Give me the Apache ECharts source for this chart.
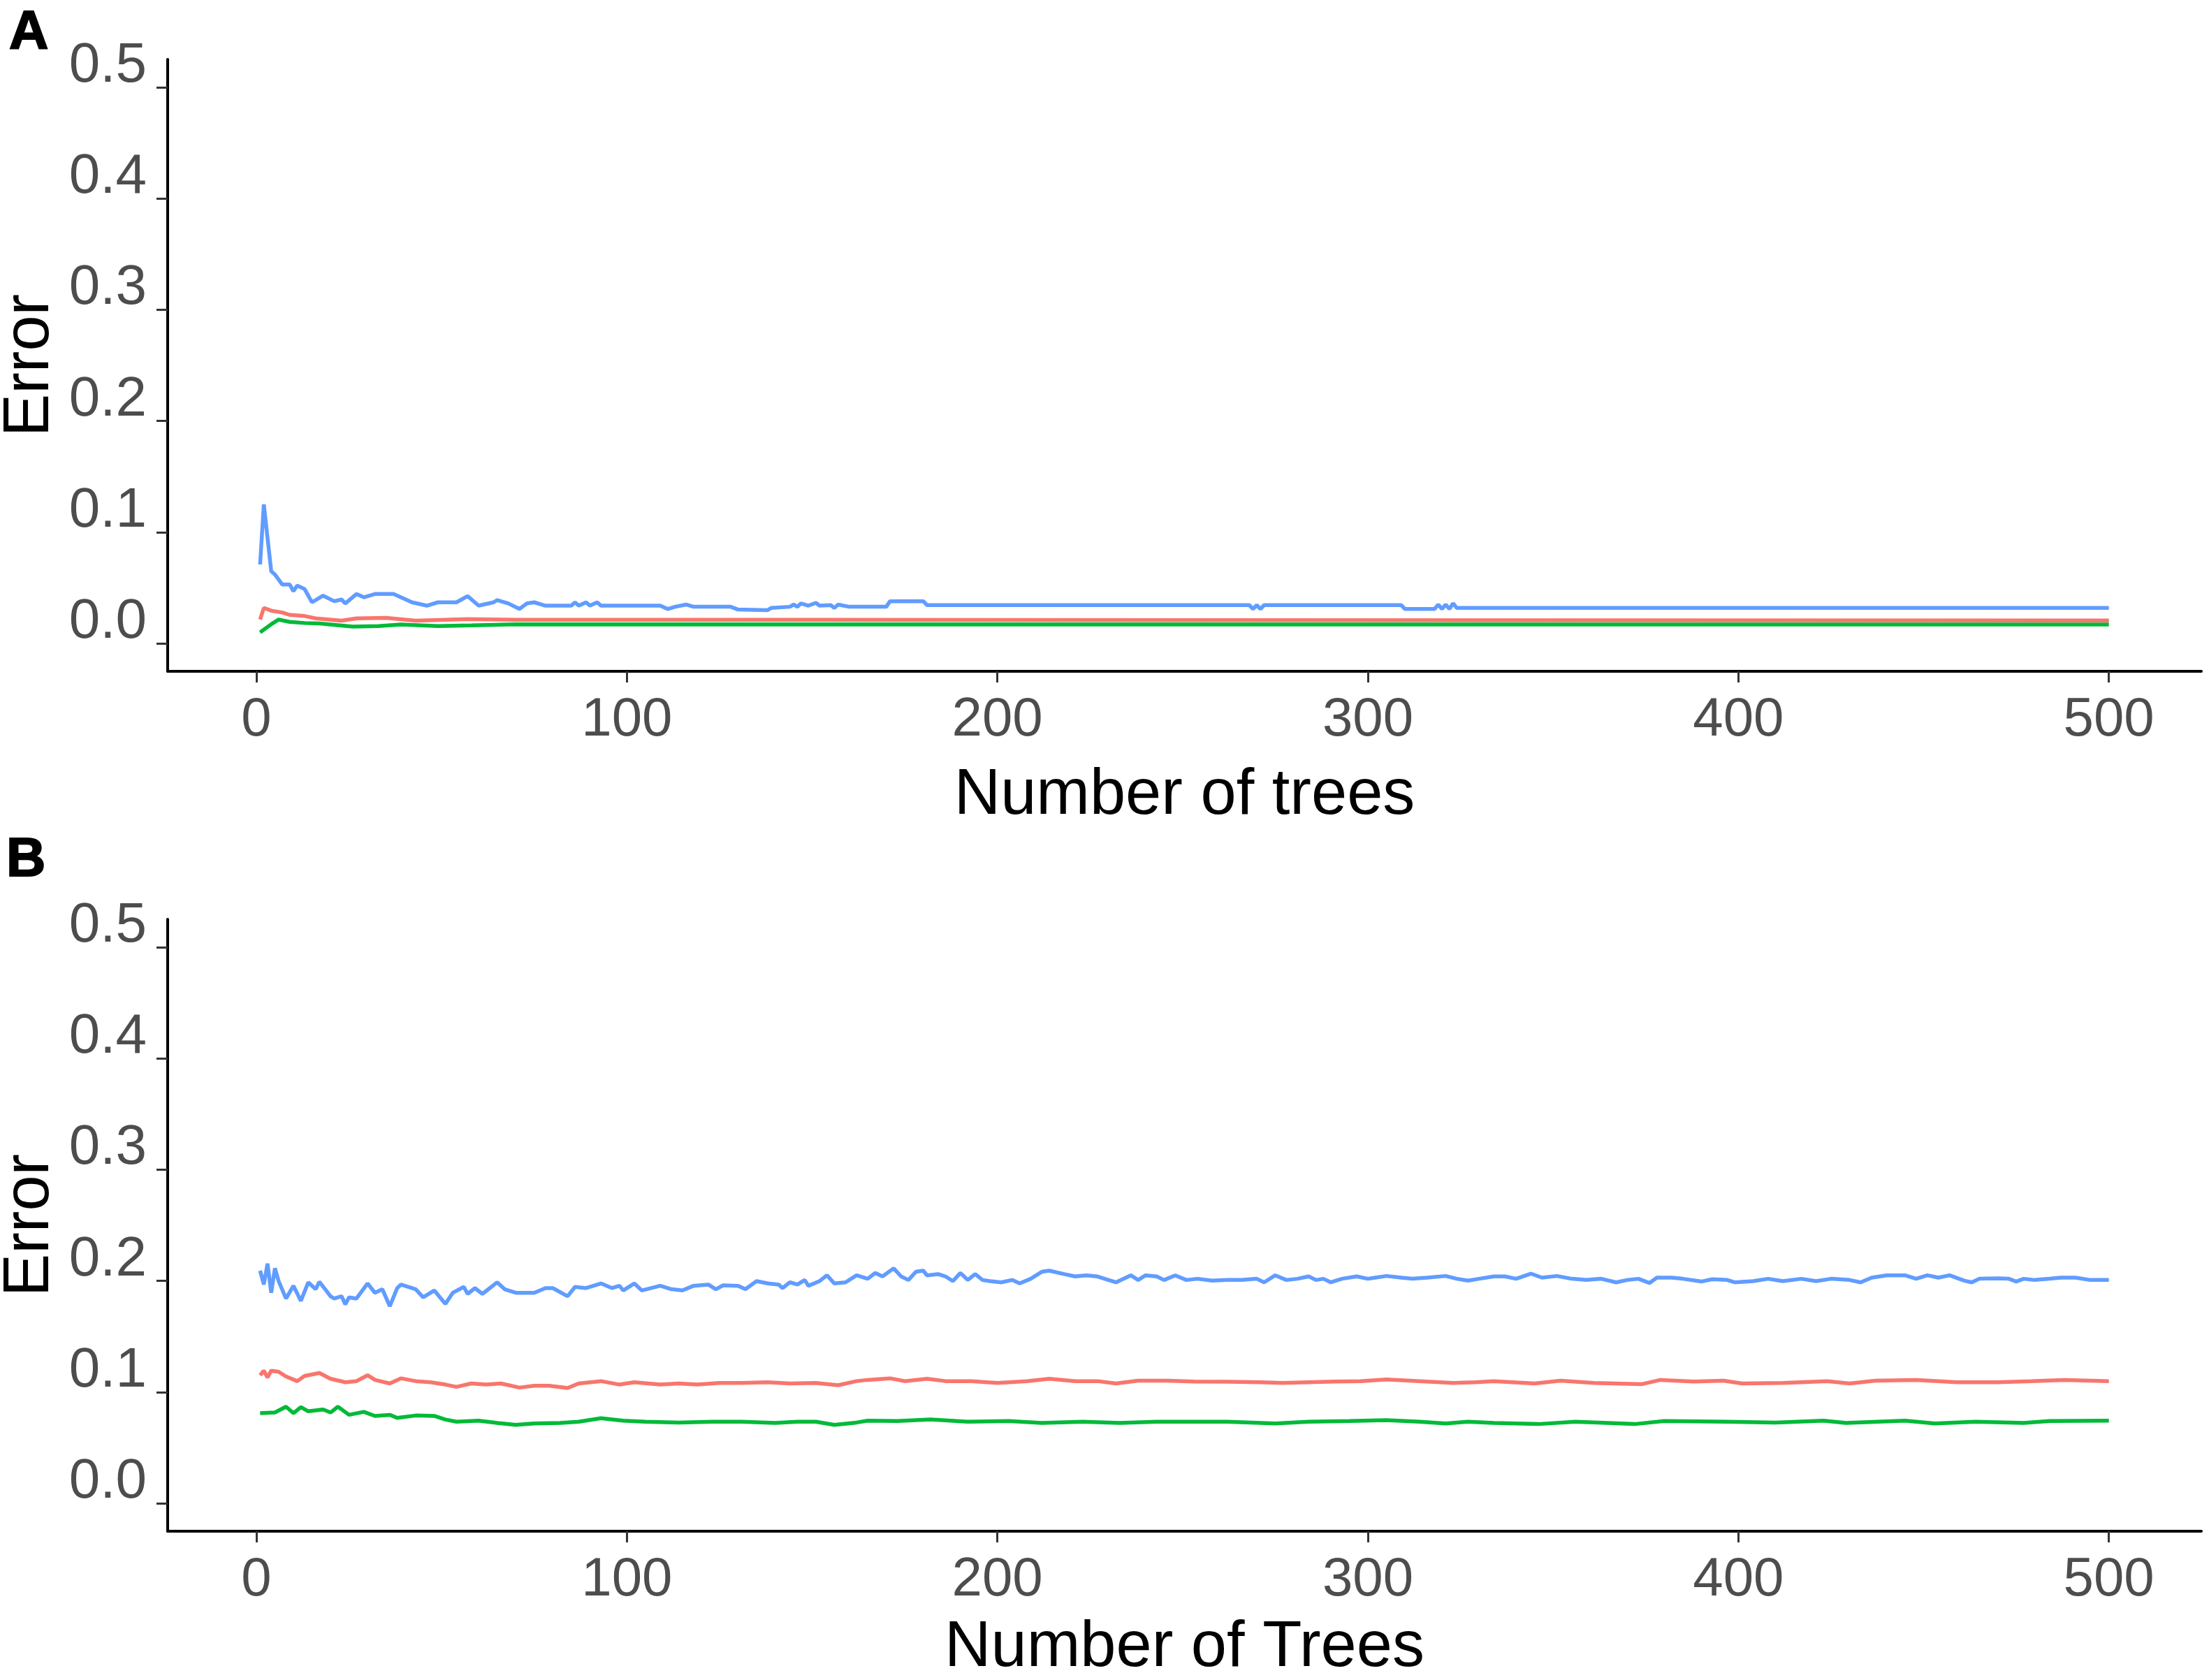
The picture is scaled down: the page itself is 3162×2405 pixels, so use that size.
<!DOCTYPE html>
<html>
<head>
<meta charset="utf-8">
<script src="https://cdn.jsdelivr.net/npm/echarts@6/dist/echarts.min.js"></script>
<style>
  html, body { margin: 0; padding: 0; background: #fff; }
  #main { width: 3162px; height: 2405px; }
</style>
</head>
<body>
<div id="main"></div>
<script>
// tick labels
const xTicks = [0, 100, 200, 300, 400, 500];
const yTicks = [0, 0.1, 0.2, 0.3, 0.4, 0.5];

// panel A: [number of trees, error]
const redA = [[1,0.0215],[2,0.032],[4,0.0295],[7,0.0278],[9,0.0257],[13,0.0247],[16,0.0226],[23,0.0205],[27,0.0226],[35,0.023],[43,0.0205],[57,0.022],[70,0.0213],[150,0.0213],[250,0.021],[500,0.0207]];
const greenA = [[1,0.010],[4,0.0173],[6,0.0215],[9,0.0194],[13,0.0184],[17,0.018],[26,0.0152],[33,0.0157],[39,0.017],[49,0.0157],[58,0.0163],[70,0.0173],[500,0.017]];
const blueA = [[1,0.071],[2,0.125],[4,0.065],[5,0.062],[7,0.053],[9,0.053],[10,0.047],[11,0.052],[13,0.049],[15,0.037],[18,0.043],[21,0.038],[23,0.0395],[24,0.036],[27,0.0445],[29,0.0415],[32,0.0445],[37,0.0445],[39,0.0415],[42,0.037],[46,0.034],[49,0.037],[54,0.037],[57,0.0426],[60,0.034],[64,0.037],[65,0.039],[68,0.036],[71,0.031],[73,0.036],[75,0.037],[78,0.034],[85,0.034],[86,0.037],[87,0.034],[89,0.037],[90,0.034],[92,0.037],[93,0.034],[109,0.034],[111,0.031],[113,0.033],[116,0.035],[118,0.033],[128,0.033],[130,0.0305],[138,0.030],[139,0.032],[144,0.033],[145,0.035],[146,0.033],[147,0.036],[149,0.034],[151,0.0365],[152,0.034],[155,0.0345],[156,0.032],[157,0.035],[160,0.033],[170,0.033],[171,0.038],[180,0.038],[181,0.0345],[268,0.0345],[269,0.031],[270,0.0345],[271,0.031],[272,0.0345],[309,0.0345],[310,0.031],[318,0.031],[319,0.035],[320,0.031],[321,0.035],[322,0.031],[323,0.036],[324,0.032],[500,0.032]];

// panel B
const redB = [[1,.1152],[2,.1193],[3,.1131],[4,.1193],[6,.1183],[8,.1141],[11,.1099],[13,.1145],[17,.1172],[20,.1120],[24,.1089],[27,.1099],[30,.1152],[32,.1110],[36,.1078],[39,.1124],[43,.1099],[47,.1089],[51,.1068],[54,.1047],[58,.1078],[62,.1068],[66,.1078],[71,.1041],[75,.1058],[79,.1058],[84,.1037],[87,.1078],[93,.1099],[98,.1068],[102,.1089],[109,.1068],[114,.1078],[119,.1068],[125,.1083],[131,.1083],[138,.1089],[144,.1078],[151,.1083],[157,.1062],[162,.1099],[165,.1110],
  [171,.1124],[175,.1099],[181,.1120],[186,.1099],[193,.1099],[200,.1083],[208,.1099],[214,.1120],[221,.1099],[227,.1099],[232,.1078],[238,.1103],[246,.1103],[253,.1095],[262,.1093],[271,.1089],[277,.1083],[284,.1089],[291,.1095],[298,.1099],[305,.1114],[314,.1099],[323,.1083],[329,.1089],[334,.1099],
  [345,.1078],[352,.1103],[361,.1083],[374,.1072],[379,.1110],[388,.1095],[396,.1103],[401,.1078],[412,.1083],[424,.1099],[430,.1078],[437,.1103],[448,.1110],[459,.1089],[470,.1089],[479,.1099],[488,.1110],[500,.1099]];
const greenB = [[1,.0811],[5,.0817],[8,.0869],[10,.0811],[12,.0865],[14,.0828],[18,.0844],[20,.0817],[22,.0869],[25,.0796],[29,.0823],[32,.0786],[36,.0796],[38,.0769],[43,.0790],[48,.0786],[51,.0754],[54,.0734],[60,.0744],[65,.0723],[70,.0706],[75,.0719],[82,.0723],[87,.0734],[93,.0765],[99,.0744],[105,.0734],[114,.0727],[123,.0734],[131,.0734],[140,.0723],[146,.0734],[151,.0734],[156,.0706],[162,.0727],[165,.0744],
  [173,.0740],[182,.0754],[192,.0734],[203,.0740],[212,.0723],[223,.0734],[233,.0723],[243,.0734],[253,.0734],[262,.0734],[275,.0719],[284,.0734],[295,.0740],[305,.0748],[314,.0734],[321,.0719],[327,.0734],[334,.0723],
  [346,.0713],[356,.0734],[372,.0713],[380,.0740],[397,.0734],[410,.0727],[423,.0744],[429,.0723],[445,.0744],[453,.0719],[464,.0734],[477,.0723],[484,.0740],[500,.0744]];
const blueB = [[1,.2092],[2,.1967],[3,.2155],[4,.1893],[5,.2113],[6,.1998],[8,.1841],[10,.1956],[12,.1820],[14,.1987],[16,.1925],[17,.1992],[20,.1862],[21,.1841],[23,.1862],[24,.1789],[25,.1852],[27,.1841],[30,.1977],[32,.1893],[34,.1925],[36,.1772],[38,.1935],[39,.1967],[43,.1925],[45,.1852],[48,.1914],[51,.1793],[53,.1893],[56,.1946],[57,.1883],[59,.1935],[61,.1883],[65,.1987],[67,.1925],[70,.1893],[75,.1893],[78,.1935],[80,.1935],[84,.1862],[86,.1946],[89,.1935],[93,.1977],[96,.1935],[98,.1956],[99,.1914],[102,.1977],[104,.1914],[109,.1956],[112,.1925],[115,.1914],[118,.1956],[122,.1967],[124,.1925],[126,.1960],[130,.1956],[132,.1925],[135,.1998],[138,.1977],[141,.1967],[142,.1935],[144,.1987],[146,.1967],[148,.2008],[149,.1956],[152,.1998],[154,.2050],[156,.1977],[159,.1987],[162,.2050],[165,.2019],
  [167,.2071],[169,.2040],[172,.2113],[174,.2040],[176,.2008],[178,.2082],[180,.2092],[181,.2050],[184,.2061],[186,.2040],[188,.1998],[190,.2071],[192,.2008],[194,.2061],[196,.2008],[198,.1998],[201,.1987],[204,.2008],[206,.1977],[209,.2019],[212,.2082],[214,.2092],[218,.2061],[221,.2040],[224,.2050],[227,.2040],[230,.2008],[232,.1987],[236,.2050],[238,.2008],[240,.2050],[243,.2040],[245,.2008],[248,.2050],[251,.2008],[254,.2019],[258,.2002],[262,.2008],[266,.2008],[270,.2019],[272,.1987],[275,.2050],[278,.2008],[281,.2019],[284,.2040],[286,.2008],[288,.2019],[290,.1987],[293,.2019],[297,.2040],[300,.2019],[302,.2029],[305,.2044],[309,.2029],[312,.2019],[316,.2029],[321,.2044],[324,.2019],[327,.2002],[330,.2019],[334,.2040],
  [337,.2040],[340,.2019],[344,.2065],[347,.2029],[351,.2044],[355,.2019],[359,.2008],[363,.2019],[367,.1987],[370,.2008],[373,.2019],[376,.1981],[378,.2029],[382,.2029],[385,.2019],[390,.1994],[393,.2015],[397,.2008],[399,.1987],[404,.1998],[408,.2019],[412,.1998],[417,.2019],[421,.1998],[425,.2019],[430,.2008],[433,.1987],[436,.2029],[440,.2050],[445,.2050],[448,.2019],[451,.2050],[454,.2029],[457,.2050],[461,.2002],[463,.1987],[465,.2019],[470,.2023],[473,.2019],[475,.1994],[477,.2019],[480,.2008],[484,.2019],[487,.2029],[491,.2029],[495,.2008],[500,.2008]];

const RED = '#F8766D', GREEN = '#00BA38', BLUE = '#619CFF';
const FONT = "'Liberation Sans', Arial, sans-serif";

function xAxis(idx, name, gap) {
  return {
    type: 'value', gridIndex: idx, min: -23.95, max: 524.95,
    name: name, nameLocation: 'middle', nameGap: gap,
    nameTextStyle: { fontSize: 92, color: '#000', fontFamily: FONT, verticalAlign: 'middle', lineHeight: 92 },
    axisLine: { show: true, onZero: false, lineStyle: { color: '#000', width: 4 } },
    axisTick: { show: true, length: 16, customValues: xTicks, lineStyle: { color: '#333', width: 3 } },
    axisLabel: { customValues: xTicks, fontSize: 78, color: '#4d4d4d', fontFamily: FONT, margin: 31, lineHeight: 78 },
    splitLine: { show: false }
  };
}

function yAxis(idx) {
  return {
    type: 'value', gridIndex: idx, min: -0.025, max: 0.525,
    name: 'Error', nameLocation: 'middle', nameGap: 196, nameMoveOverlap: false,
    nameTextStyle: { fontSize: 92, color: '#000', fontFamily: FONT, verticalAlign: 'middle', lineHeight: 92 },
    axisLine: { show: true, onZero: false, lineStyle: { color: '#000', width: 4 } },
    axisTick: { show: true, length: 16, customValues: yTicks, lineStyle: { color: '#333', width: 3 } },
    axisLabel: {
      customValues: yTicks, fontSize: 80, color: '#4d4d4d', fontFamily: FONT,
      margin: 30, verticalAlign: 'bottom', lineHeight: 60,
      formatter: v => v.toFixed(1)
    },
    splitLine: { show: false }
  };
}

function line(name, data, color, idx) {
  return {
    name: name, type: 'line', xAxisIndex: idx, yAxisIndex: idx,
    data: data, showSymbol: false, symbol: 'none',
    lineStyle: { color: color, width: 5.5 }, itemStyle: { color: color }
  };
}

const chart = echarts.init(document.getElementById('main'));
chart.setOption({
  animation: false,
  backgroundColor: '#fff',
  textStyle: { fontFamily: FONT },
  grid: [
    { left: 240, width: 2911, top: 85, height: 876, containLabel: false, outerBoundsMode: 'none' },
    { left: 240, width: 2911, top: 1316, height: 876, containLabel: false, outerBoundsMode: 'none' }
  ],
  xAxis: [xAxis(0, 'Number of trees', 179), xAxis(1, 'Number of Trees', 168)],
  yAxis: [yAxis(0), yAxis(1)],
  graphic: [
    { type: 'text', left: 12, top: 8, style: { text: 'A', fontSize: 78, fontWeight: 900, fill: '#000', fontFamily: FONT, stroke: '#000', lineWidth: 2 } },
    { type: 'text', left: 8, top: 1192, style: { text: 'B', fontSize: 78, fontWeight: 900, fill: '#000', fontFamily: FONT, stroke: '#000', lineWidth: 2 } }
  ],
  series: [
    line('OOB', redA, RED, 0),
    line('1', greenA, GREEN, 0),
    line('2', blueA, BLUE, 0),
    line('OOB', redB, RED, 1),
    line('1', greenB, GREEN, 1),
    line('2', blueB, BLUE, 1)
  ]
});
</script>
</body>
</html>
